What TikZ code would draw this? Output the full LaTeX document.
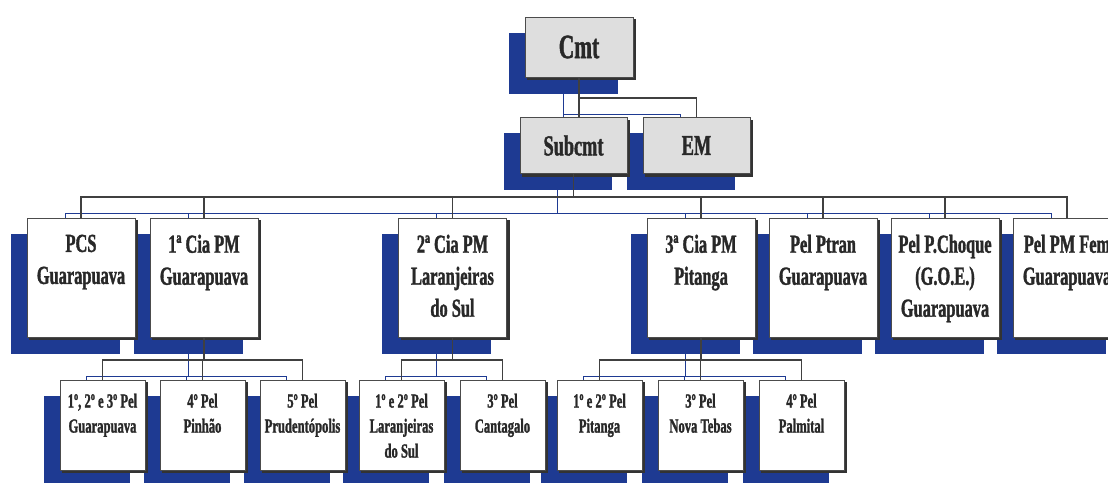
\documentclass[tikz,border=0pt]{standalone}
\usepackage{fontspec}
\newfontfamily\orgfont{Liberation Serif Bold}[FakeStretch=0.63, FakeBold=1.3]
\usetikzlibrary{positioning,backgrounds}
\definecolor{shadeblue}{RGB}{30,58,146}
\definecolor{inkgray}{RGB}{40,40,40}

% all connectors of the chart, drawn once as shadow and once in black
\newcommand{\orglinks}[1]{%
  \draw[#1] (cmt.south) -- (cmt.south |- subcmt.north);
  \draw[#1] (cmt.south) -- (cmt.south |- topbus) -| (em.north);
  \draw[#1] (subcmt.south) -- (subcmt.south |- midbus);
  \draw[#1] (pcs.north) -- (pcs.north |- midbus) -| (fem.north);
  \foreach \n in {cia1,cia2,cia3,ptran,choque}
    \draw[#1] (\n.north) -- (\n.north |- midbus);
  % 1a Cia
  \draw[#1] (cia1.south) -- (cia1.south |- lowbus);
  \draw[#1] (pel123.north) -- (pel123.north |- lowbus) -| (pel5.north);
  \draw[#1] (pel4.north) -- (pel4.north |- lowbus);
  % 2a Cia
  \draw[#1] (cia2.south) -- (cia2.south |- lowbus);
  \draw[#1] (lar12.north) -- (lar12.north |- lowbus) -| (cant3.north);
  % 3a Cia
  \draw[#1] (cia3.south) -- (cia3.south |- lowbus);
  \draw[#1] (pit12.north) -- (pit12.north |- lowbus) -| (pal4.north);
  \draw[#1] (teb3.north) -- (teb3.north |- lowbus);
}

\begin{document}
\begin{tikzpicture}[x=1pt, y=-1pt,
    orgbox/.style={draw=black!70, line width=1pt, fill=white, inner sep=0pt},
    cmdbox/.style={orgbox, fill=black!13, minimum width=107pt,
      minimum height=56pt, text=inkgray,
      font=\orgfont\fontsize{29}{34}\selectfont},
    unitbox/.style={orgbox, minimum width=108pt, minimum height=119pt},
    pelbox/.style={orgbox, minimum width=85pt, minimum height=90pt},
    unittext/.style={anchor=north, inner sep=0pt, align=center, text=inkgray,
      font=\orgfont\fontsize{26}{32}\selectfont},
    peltext/.style={anchor=north, inner sep=0pt, align=center, text=inkgray,
      font=\orgfont\fontsize{20}{25}\selectfont},
    orglink/.style={draw=black!75, line width=1.1pt},
    shadowlink/.style={draw=shadeblue, line width=0.9pt},
  ]
  \useasboundingbox (0,0) rectangle (1108,482);

  % --- command (top) ---
  \node[cmdbox, minimum width=108pt, minimum height=60pt,
    font=\orgfont\fontsize{34}{40}\selectfont] (cmt) at (579,47) {Cmt};
  \node[cmdbox] (subcmt) at (573.5,145.5) {Subcmt};
  \node[cmdbox, right=15pt of subcmt] (em) {EM};

  % --- companies and platoons (middle row) ---
  \node[unitbox] (pcs) at (81,277.5) {};
  \node[unitbox, right=14pt of pcs] (cia1) {};
  \node[unitbox] (cia2) at (452.5,277.5) {};
  \node[unitbox] (cia3) at (701,277.5) {};
  \node[unitbox, right=13pt of cia3] (ptran) {};
  \node[unitbox, right=13pt of ptran] (choque) {};
  \node[unitbox, right=13pt of choque] (fem) {};

  \node[unittext] (pcs-t) at ([yshift=-17pt]pcs.north) {PCS\\Guarapuava};
  \node[unittext] (cia1-t) at ([yshift=-17pt]cia1.north) {1ª Cia PM\\Guarapuava};
  \node[unittext] (cia2-t) at ([yshift=-17pt]cia2.north)
    {2ª Cia PM\\Laranjeiras\\do Sul};
  \node[unittext] (cia3-t) at ([yshift=-17pt]cia3.north) {3ª Cia PM\\Pitanga};
  \node[unittext] (ptran-t) at ([yshift=-17pt]ptran.north)
    {Pel Ptran\\Guarapuava};
  \node[unittext] (choque-t) at ([yshift=-17pt]choque.north)
    {Pel P.Choque\\(G.O.E.)\\Guarapuava};
  \node[unittext] (fem-t) at ([yshift=-17pt]fem.north)
    {Pel PM Fem\\Guarapuava};

  % --- platoons (bottom row) ---
  \node[pelbox] (pel123) at (102.5,425) {};
  \node[pelbox, right=14pt of pel123] (pel4) {};
  \node[pelbox, right=14pt of pel4] (pel5) {};
  \node[pelbox] (lar12) at (401.5,425) {};
  \node[pelbox, right=15pt of lar12] (cant3) {};
  \node[pelbox] (pit12) at (599.5,425) {};
  \node[pelbox, right=15pt of pit12] (teb3) {};
  \node[pelbox, right=15pt of teb3] (pal4) {};

  \node[peltext] (pel123-t) at ([yshift=-14pt]pel123.north)
    {1º, 2º e 3º Pel\\Guarapuava};
  \node[peltext] (pel4-t) at ([yshift=-14pt]pel4.north) {4º Pel\\Pinhão};
  \node[peltext] (pel5-t) at ([yshift=-14pt]pel5.north)
    {5º Pel\\Prudentópolis};
  \node[peltext] (lar12-t) at ([yshift=-14pt]lar12.north)
    {1º e 2º Pel\\Laranjeiras\\do Sul};
  \node[peltext] (cant3-t) at ([yshift=-14pt]cant3.north)
    {3º Pel\\Cantagalo};
  \node[peltext] (pit12-t) at ([yshift=-14pt]pit12.north)
    {1º e 2º Pel\\Pitanga};
  \node[peltext] (teb3-t) at ([yshift=-14pt]teb3.north)
    {3º Pel\\Nova Tebas};
  \node[peltext] (pal4-t) at ([yshift=-14pt]pal4.north) {4º Pel\\Palmital};

  % bus levels
  \coordinate (topbus) at (0,98);
  \coordinate (midbus) at (0,197);
  \coordinate (lowbus) at (0,360);

  % --- shadows behind the boxes ---
  \begin{scope}[on background layer]
    \foreach \n in {cmt,subcmt,em,pcs,cia1,cia2,cia3,ptran,choque,fem,
        pel123,pel4,pel5,lar12,cant3,pit12,teb3,pal4}
      \fill[shadeblue] ([shift={(-16,16)}]\n.north west)
        rectangle ([shift={(-16,16)}]\n.south east);
    \foreach \n in {cmt,subcmt,em,pcs,cia1,cia2,cia3,ptran,choque,fem,
        pel123,pel4,pel5,lar12,cant3,pit12,teb3,pal4}
      \fill[black!80] ([shift={(2.5,2.5)}]\n.north west)
        rectangle ([shift={(2.5,2.5)}]\n.south east);
    \begin{scope}[transform canvas={shift={(-16pt,-16pt)}}]
      \orglinks{shadowlink}
    \end{scope}
  \end{scope}

  % --- connectors ---
  \orglinks{orglink}

\end{tikzpicture}
\end{document}
